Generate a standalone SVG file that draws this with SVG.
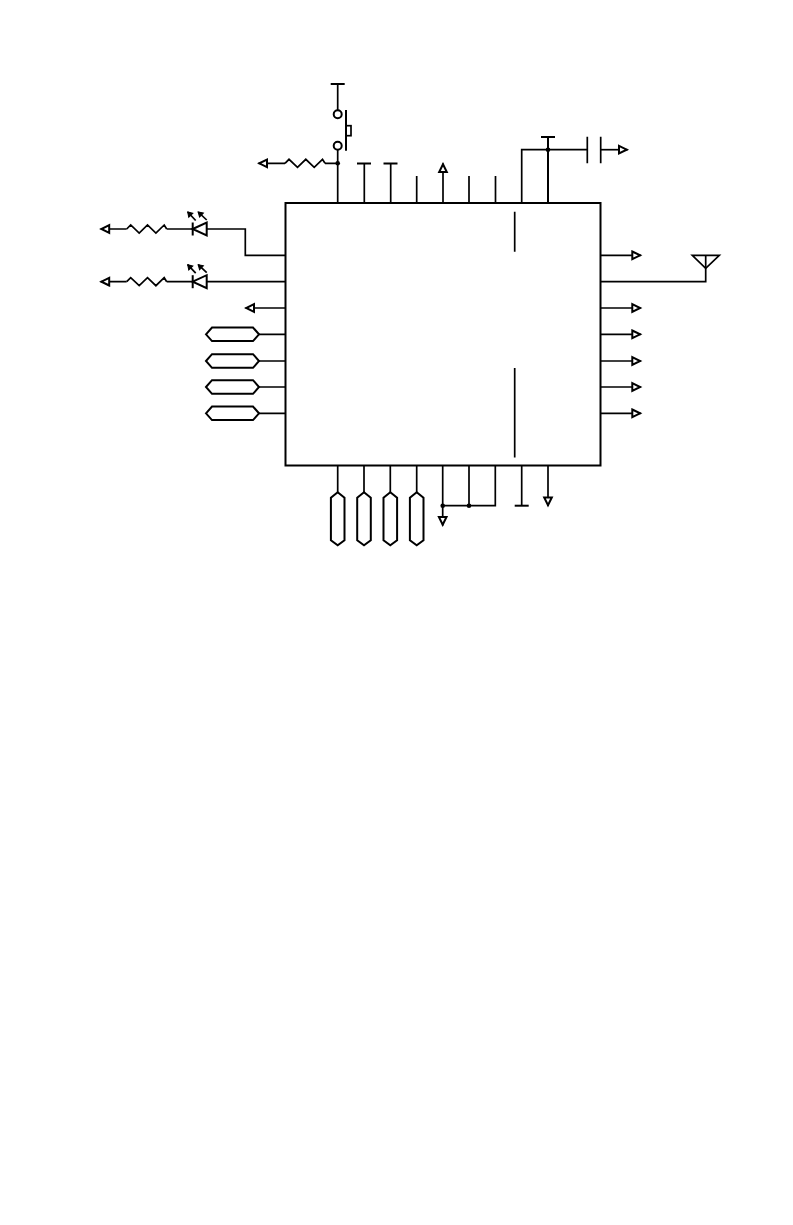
<svg xmlns="http://www.w3.org/2000/svg" width="793" height="1225" viewBox="0 0 793 1225">
<style>
.w{fill:none;stroke:#000;stroke-width:1.7;stroke-linejoin:miter}
.b{fill:none;stroke:#000;stroke-width:2}
.p{fill:#fff;stroke:#000;stroke-width:2}
.d{fill:#000;stroke:none}
</style>
<defs>
<marker id="arrow" markerUnits="userSpaceOnUse" markerWidth="12" markerHeight="12" viewBox="0 -6 12 12" refX="10" refY="0" orient="auto">
<path d="M1.500-3.800 L9.300 0 L1.500 3.800Z" fill="#fff" stroke="#000" stroke-width="2"/>
</marker>
<marker id="tick" markerUnits="userSpaceOnUse" markerWidth="8" markerHeight="8" viewBox="0 -4 8 8" refX="7" refY="0" orient="auto">
<path d="M7 0 L2.500-2.800 L2.500 2.800Z" fill="#000" stroke="#000" stroke-width="1"/>
</marker>
<path id="res" class="w" d="M0 0 L4-4 L12.500 4 L20.800-4 L29.200 4 L37.500-4 L40 0"/>
<g id="led">
<path class="b" d="M0-6.500 V6.500"/>
<path class="p" d="M0 0 L14-6.500 V6.500Z"/>
<path class="w" d="M3-8.500 L-5-17" marker-end="url(#tick)"/>
<path class="w" d="M14-9 L5.500-17" marker-end="url(#tick)"/>
</g>
<path id="hexh" class="p" d="M0 0 L6-6.800 H47 L53 0 L47 6.800 H6Z"/>
<path id="hexv" class="p" d="M0 0 L6.800 5.500 V48 L0 53 L-6.800 48 V5.500Z"/>
<path id="tee" class="b" d="M-7 0 H7"/>
</defs>
<rect width="793" height="1225" fill="#fff"/>
<g id="connectors">
<path class="w" d="M337.700 84 V110.300 M337.700 149.700 V203"/>
<path class="w" d="M337.700 163.300 H325 M285 163.300 H258.500" marker-end="url(#arrow)"/>
<path class="w" d="M364.300 163.500 V203 M390.700 163.500 V203 M416.700 176 V203 M469 176 V203 M495.500 176 V203"/>
<path class="w" d="M443 203 V163.500" marker-end="url(#arrow)"/>
<path class="w" d="M521.700 203 V149.700 H587.300"/>
<path class="b" d="M548 137 V203"/>
<path class="w" d="M600.700 149.700 H627.500" marker-end="url(#arrow)"/>
<path class="w" d="M285.500 255.300 H245.300 V229 H206.700"/>
<path class="w" d="M285.500 281.700 H206.700"/>
<path class="w" d="M192.700 229 H166.700 M126.700 229 H100.700" marker-end="url(#arrow)"/>
<path class="w" d="M192.700 281.700 H166.700 M126.700 281.700 H100.700" marker-end="url(#arrow)"/>
<path class="w" d="M285.500 308 H245.500" marker-end="url(#arrow)"/>
<path class="w" d="M285.500 334.300 H259 M285.500 361 H259 M285.500 387 H259 M285.500 413.300 H259"/>
<path class="w" d="M600.500 255.300 H640.800" marker-end="url(#arrow)"/>
<path class="w" d="M600.500 281.700 H705.700 V255.300"/>
<path class="w" d="M600.500 308 H640.800" marker-end="url(#arrow)"/>
<path class="w" d="M600.500 334.300 H640.800" marker-end="url(#arrow)"/>
<path class="w" d="M600.500 361 H640.800" marker-end="url(#arrow)"/>
<path class="w" d="M600.500 387 H640.800" marker-end="url(#arrow)"/>
<path class="w" d="M600.500 413.300 H640.800" marker-end="url(#arrow)"/>
<path class="w" d="M337.700 465.500 V492.300 M364 465.500 V492.300 M390.300 465.500 V492.300 M416.700 465.500 V492.300"/>
<path class="w" d="M442.700 465.500 V525.500" marker-end="url(#arrow)"/>
<path class="w" d="M469 465.500 V505.700 M495.300 465.500 V505.700 H442.700"/>
<path class="w" d="M521.700 465.500 V505.700"/>
<path class="w" d="M548 465.500 V506" marker-end="url(#arrow)"/>
<path class="w" d="M514.700 211.700 V251.700 M514.700 368 V457.500"/>
</g>
<g id="ic"><rect class="b" x="285.500" y="203" width="315" height="262.500"/></g>
<g id="switch">
<use href="#tee" x="337.700" y="84"/>
<circle class="p" cx="337.700" cy="114.300" r="4"/>
<circle class="p" cx="337.700" cy="145.700" r="4"/>
<path class="b" d="M346 110 V150.700"/>
<rect class="w" x="346" y="125.700" width="5" height="10"/>
<circle class="d" cx="337.700" cy="163.300" r="2.300"/>
</g>
<g id="r1"><use href="#res" x="285" y="163.300"/></g>
<g id="t1"><use href="#tee" x="364" y="163.500"/></g>
<g id="t2"><use href="#tee" x="390.500" y="163.500"/></g>
<g id="t3"><use href="#tee" x="548" y="137"/><circle class="d" cx="548" cy="149.700" r="2.300"/></g>
<g id="cap"><path class="w" d="M587.300 136.700 V163.300 M600.700 136.700 V163.300"/></g>
<g id="antenna"><path class="w" d="M692.300 255.300 H719.300 L705.700 268.300Z"/></g>
<g id="led1"><use href="#led" x="192.700" y="229"/></g>
<g id="r2"><use href="#res" x="126.700" y="229"/></g>
<g id="led2"><use href="#led" x="192.700" y="281.700"/></g>
<g id="r3"><use href="#res" x="126.700" y="281.700"/></g>
<g id="h1"><use href="#hexh" x="206" y="334.300"/></g>
<g id="h2"><use href="#hexh" x="206" y="361"/></g>
<g id="h3"><use href="#hexh" x="206" y="387"/></g>
<g id="h4"><use href="#hexh" x="206" y="413.300"/></g>
<g id="v1"><use href="#hexv" x="337.700" y="492.300"/></g>
<g id="v2"><use href="#hexv" x="364" y="492.300"/></g>
<g id="v3"><use href="#hexv" x="390.300" y="492.300"/></g>
<g id="v4"><use href="#hexv" x="416.700" y="492.300"/></g>
<g id="gnd">
<circle class="d" cx="442.700" cy="505.700" r="2.300"/>
<circle class="d" cx="469" cy="505.700" r="2.300"/>
<use href="#tee" x="521.700" y="505.700"/>
</g>
</svg>
